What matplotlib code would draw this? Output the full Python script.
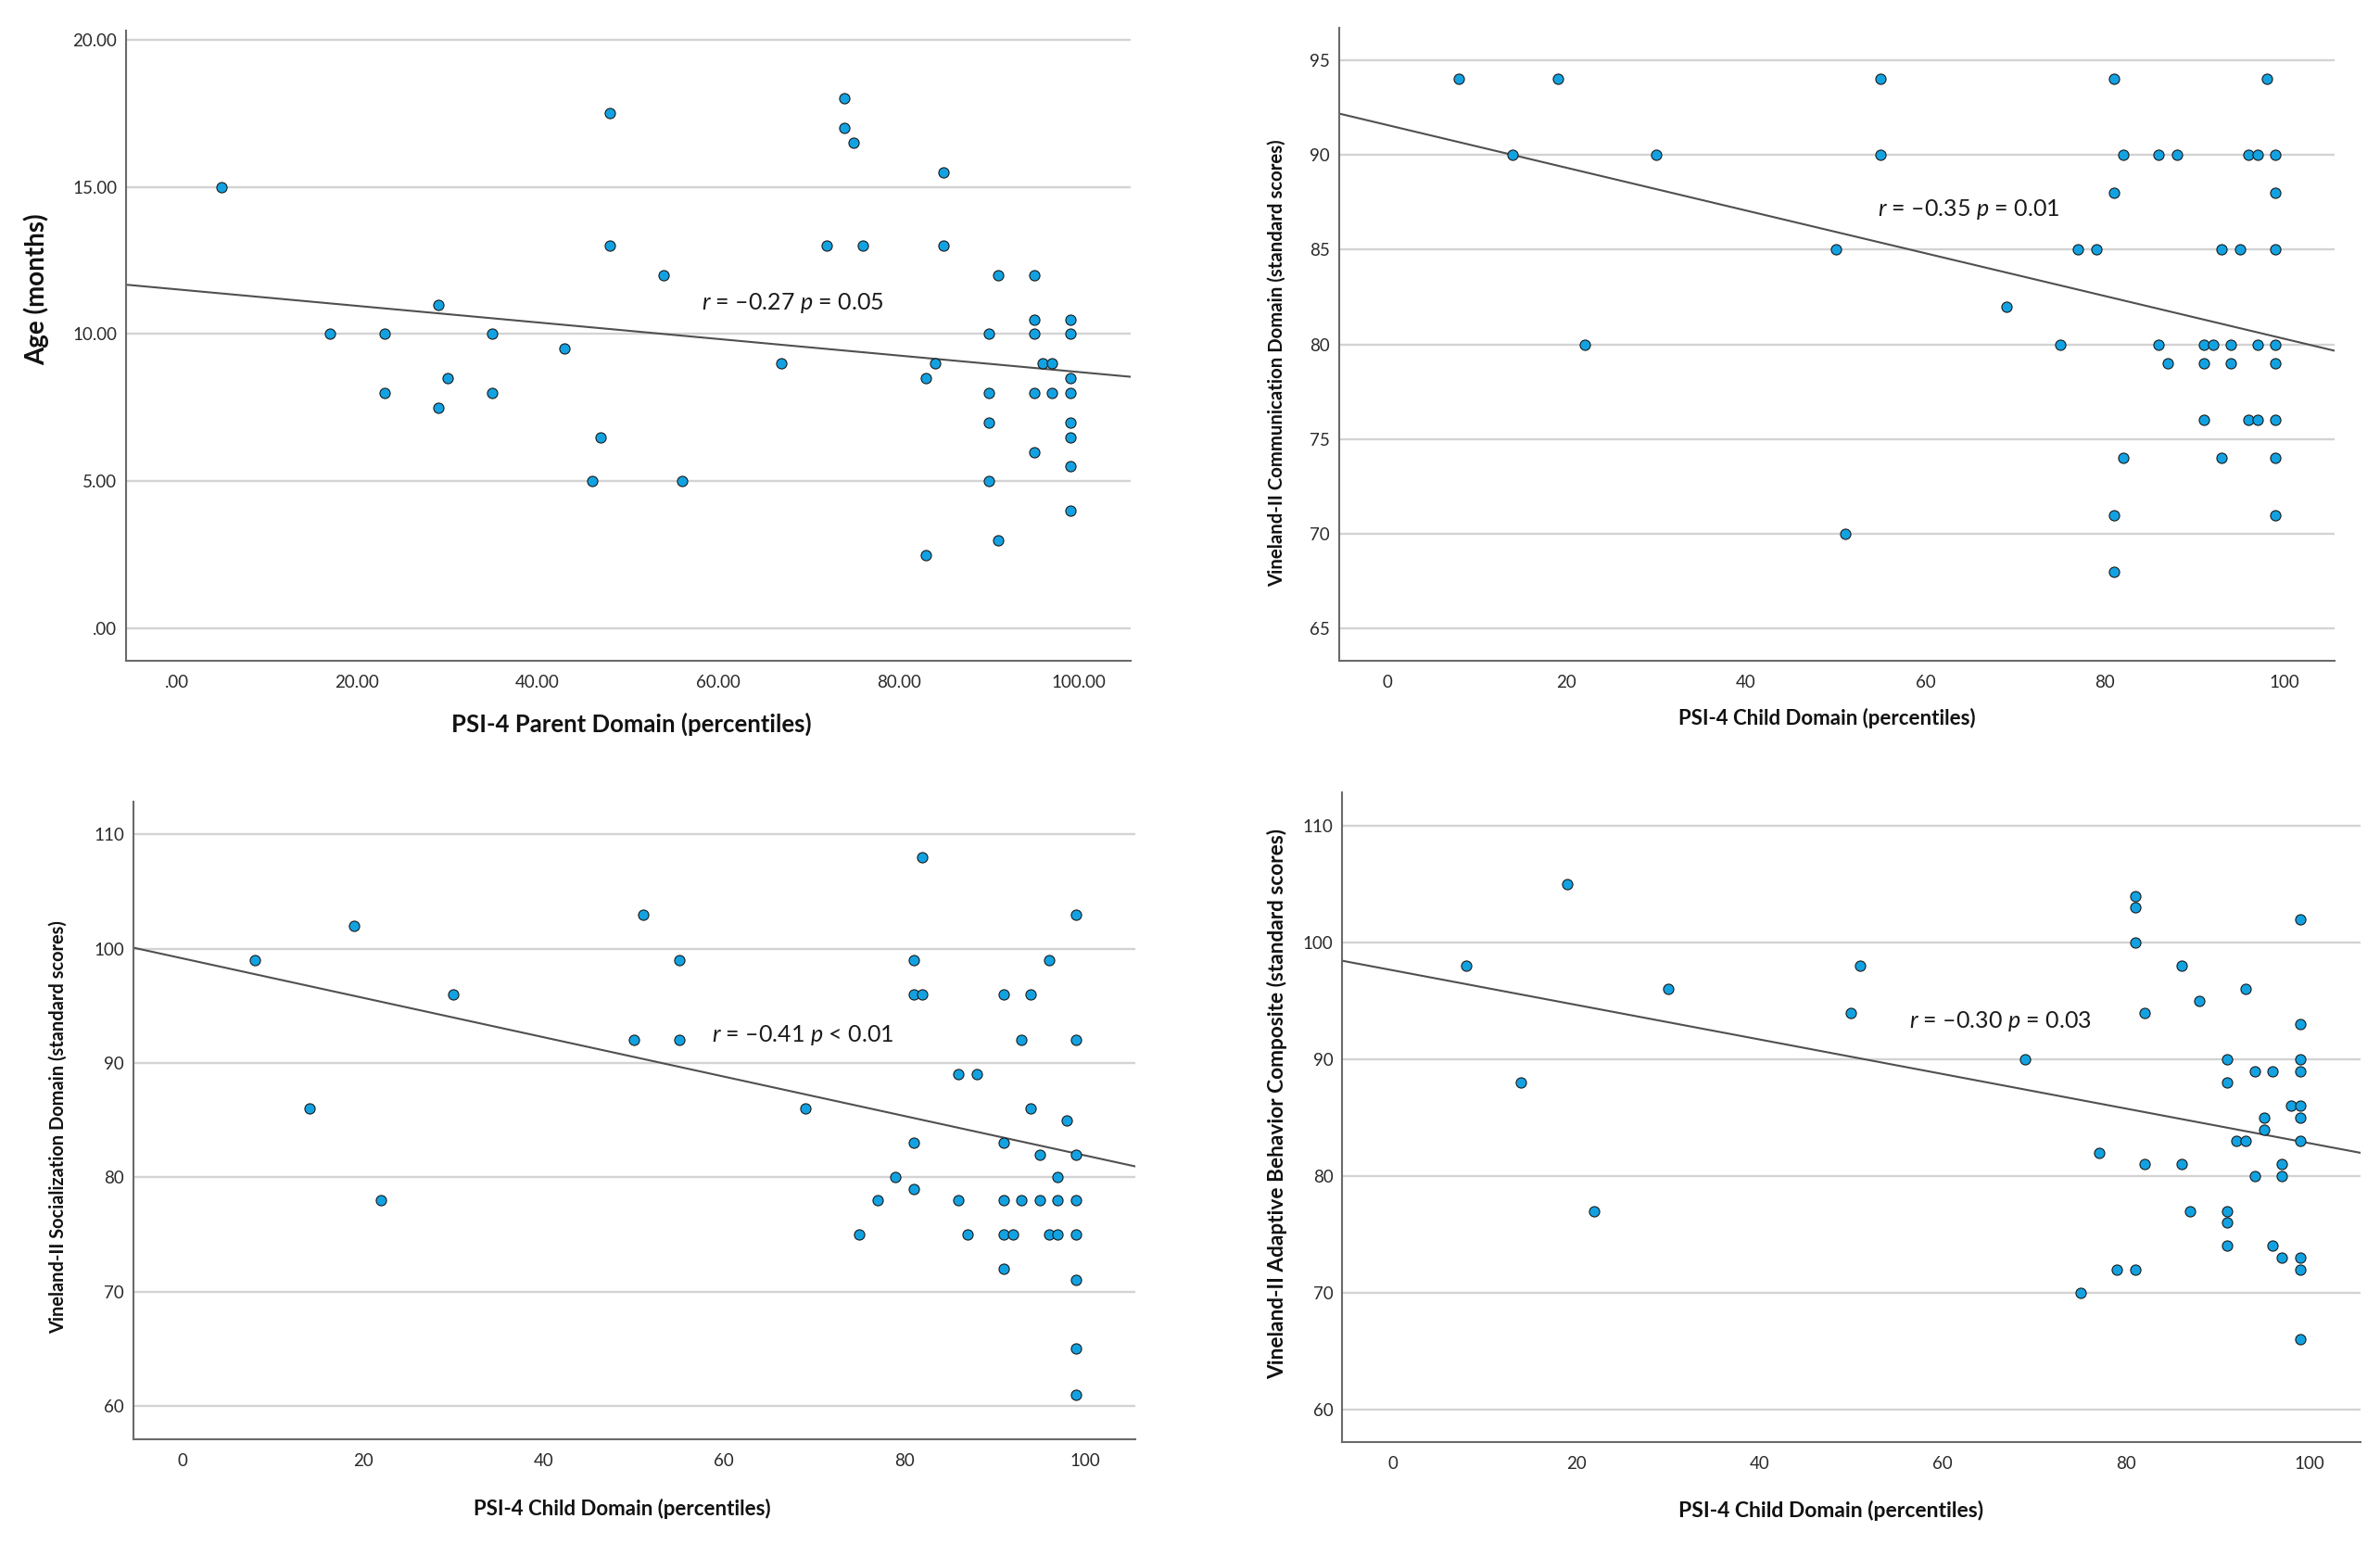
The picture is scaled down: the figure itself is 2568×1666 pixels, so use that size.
#!/usr/bin/env python3
import numpy as np
import matplotlib
matplotlib.use("Agg")
import matplotlib.pyplot as plt

# ---- data ----
parent_pct = [5, 17, 23, 23, 29, 29, 30, 35, 35, 43, 46, 47, 48, 48, 54, 56, 67, 72, 74, 74,
              75, 76, 83, 83, 84, 85, 85, 90, 90, 90, 90, 91, 91, 95, 95, 95, 95, 95, 96, 97,
              97, 99, 99, 99, 99, 99, 99, 99, 99]
age_months = [15, 10, 10, 8, 11, 7.5, 8.5, 10, 8, 9.5, 5, 6.5, 17.5, 13, 12, 5, 9, 13, 18, 17,
              16.5, 13, 8.5, 2.5, 9, 15.5, 13, 10, 8, 7, 5, 12, 3, 12, 10.5, 10, 8, 6, 9, 9,
              8, 10.5, 10, 8.5, 8, 7, 6.5, 5.5, 4]

comm_child_pct = [8, 14, 19, 22, 30, 50, 51, 55, 55, 69, 75, 77, 79, 81, 81, 81, 81, 82, 82, 86,
                  86, 87, 88, 91, 91, 91, 92, 93, 93, 94, 94, 95, 96, 96, 97, 97, 97, 98, 99, 99,
                  99, 99, 99, 99, 99, 99]
comm_scores = [94, 90, 94, 80, 90, 85, 70, 94, 90, 82, 80, 85, 85, 94, 88, 71, 68, 90, 74, 90,
               80, 79, 90, 80, 79, 76, 80, 85, 74, 80, 79, 85, 90, 76, 90, 80, 76, 94, 90, 88,
               85, 80, 79, 76, 74, 71]

soc_child_pct = [8, 14, 19, 22, 30, 50, 51, 55, 55, 69, 75, 77, 79, 81, 81, 81, 81, 82, 82, 86,
                 86, 87, 88, 91, 91, 91, 91, 91, 92, 93, 93, 94, 94, 95, 95, 96, 96, 97, 97, 97,
                 98, 99, 99, 99, 99, 99, 99, 99, 99]
soc_scores = [99, 86, 102, 78, 96, 92, 103, 99, 92, 86, 75, 78, 80, 99, 96, 83, 79, 108, 96, 89,
              78, 75, 89, 96, 83, 78, 75, 72, 75, 92, 78, 96, 86, 82, 78, 99, 75, 80, 78, 75,
              85, 103, 92, 82, 78, 75, 71, 65, 61]

abc_child_pct = [8, 14, 19, 22, 30, 50, 51, 69, 75, 77, 79, 81, 81, 81, 81, 82, 82, 86, 86, 87,
                 88, 91, 91, 91, 91, 91, 92, 93, 93, 94, 94, 95, 95, 96, 96, 97, 97, 97, 98, 99,
                 99, 99, 99, 99, 99, 99, 99, 99, 99]
abc_scores = [98, 88, 105, 77, 96, 94, 98, 90, 70, 82, 72, 104, 103, 100, 72, 94, 81, 98, 81, 77,
              95, 90, 88, 77, 76, 74, 83, 96, 83, 89, 80, 85, 84, 89, 74, 81, 80, 73, 86, 102,
              93, 90, 89, 86, 85, 83, 73, 72, 66]

# fit lines as drawn in the original (intercept, slope) - some points overlap,
# so a refit from the visible points is a little off
fit_age = (11.52, -0.0281)
fit_comm = (91.57, -0.1128)
fit_soc = (99.15, -0.1723)
fit_abc = (97.63, -0.1482)

# tick values / labels (SPSS drops the leading zero on .00)
pct2_ticks = [0, 20, 40, 60, 80, 100]
pct2_labels = [".00", "20.00", "40.00", "60.00", "80.00", "100.00"]
pct_ticks = [0, 20, 40, 60, 80, 100]
pct_labels = ["0", "20", "40", "60", "80", "100"]
age_ticks = [0, 5, 10, 15, 20]
age_labels = [".00", "5.00", "10.00", "15.00", "20.00"]
comm_ticks = [65, 70, 75, 80, 85, 90, 95]
score_ticks = [60, 70, 80, 90, 100, 110]

stats_text = {
    "age": r"$r$ = –0.27 $p$ = 0.05",
    "comm": r"$r$ = –0.35 $p$ = 0.01",
    "soc": r"$r$ = –0.41 $p$ < 0.01",
    "abc": r"$r$ = –0.30 $p$ = 0.03",
}

FONT = "Lato"
plt.rcParams["font.family"] = [FONT, "DejaVu Sans"]
plt.rcParams["mathtext.fontset"] = "custom"
plt.rcParams["mathtext.it"] = f"{FONT}:italic"
plt.rcParams["mathtext.rm"] = FONT

MARKER_COLOR = "#12a2e2"
GRID_COLOR = "#d3d3d3"
SPINE_COLOR = "#6a6a6a"
LINE_COLOR = "#505050"


def draw_panel(ax, x, y, fit, xlim, ylim, xticks, xlabels, yticks, ylabels,
               xlabel, ylabel, xlabel_size, ylabel_size, label_pos, note, note_xy):
    ax.set_xlim(*xlim)
    ax.set_ylim(*ylim)

    # horizontal grid only, like SPSS output
    for yt in yticks:
        ax.axhline(yt, color=GRID_COLOR, linewidth=1.7, zorder=0)

    # fit line across the whole x range
    intercept, slope = fit
    xs = np.array(xlim)
    ax.plot(xs, intercept + slope * xs, color=LINE_COLOR, linewidth=1.5, zorder=1)

    ax.scatter(x, y, s=64, color=MARKER_COLOR, edgecolors="#1a1a1a",
               linewidths=0.8, zorder=3)

    ax.set_xticks(xticks)
    ax.set_xticklabels(xlabels)
    ax.set_yticks(yticks)
    ax.set_yticklabels(ylabels if ylabels else [str(t) for t in yticks])
    ax.tick_params(axis="both", length=0, labelsize=13.5, labelcolor="#2a2a2a")
    ax.tick_params(axis="x", pad=11)
    ax.tick_params(axis="y", pad=7)

    for side in ("top", "right"):
        ax.spines[side].set_visible(False)
    for side in ("left", "bottom"):
        ax.spines[side].set_color(SPINE_COLOR)
        ax.spines[side].set_linewidth(1.5)

    ax.set_xlabel(xlabel, fontsize=xlabel_size, fontweight="bold", color="#111111")
    ax.set_ylabel(ylabel, fontsize=ylabel_size, fontweight="bold", color="#111111")
    ax.xaxis.set_label_coords(label_pos[0], label_pos[1])
    ax.yaxis.set_label_coords(label_pos[2], label_pos[3])

    ax.text(note_xy[0], note_xy[1], note, fontsize=18, color="#1a1a1a",
            ha="left", va="center", zorder=4)


fig = plt.figure(figsize=(25.68, 16.66), dpi=100)

ax1 = fig.add_axes([0.053, 0.572, 0.422, 0.408])
draw_panel(ax1, parent_pct, age_months, fit_age, (-5.6, 105.7), (-1.1, 20.3),
           pct2_ticks, pct2_labels, age_ticks, age_labels,
           "PSI-4 Parent Domain (percentiles)", "Age (months)", 18.5, 20,
           (0.503, -0.082, -0.077, 0.59), stats_text["age"], (58.2, 11.05))

ax2 = fig.add_axes([0.5625, 0.572, 0.4185, 0.410])
draw_panel(ax2, comm_child_pct, comm_scores, fit_comm, (-5.4, 105.6), (63.3, 96.7),
           pct_ticks, pct_labels, comm_ticks, None,
           "PSI-4 Child Domain (percentiles)", "Vineland-II Communication Domain (standard scores)",
           16, 14.7, (0.49, -0.074, -0.053, 0.47), stats_text["comm"], (54.7, 87.1))

ax3 = fig.add_axes([0.056, 0.068, 0.421, 0.413])
draw_panel(ax3, soc_child_pct, soc_scores, fit_soc, (-5.5, 105.6), (57.1, 112.9),
           pct_ticks, pct_labels, score_ticks, None,
           "PSI-4 Child Domain (percentiles)", "Vineland-II Socialization Domain (standard scores)",
           16, 14.4, (0.488, -0.094, -0.066, 0.49), stats_text["soc"], (58.6, 92.4))

ax4 = fig.add_axes([0.564, 0.066, 0.428, 0.421])
draw_panel(ax4, abc_child_pct, abc_scores, fit_abc, (-5.5, 105.6), (57.2, 112.9),
           pct_ticks, pct_labels, score_ticks, None,
           "PSI-4 Child Domain (percentiles)", "Vineland-II Adaptive Behavior Composite (standard scores)",
           16.5, 16.3, (0.48, -0.090, -0.054, 0.52), stats_text["abc"], (56.3, 93.25))

fig.savefig("out.png", dpi=100, facecolor="white")
